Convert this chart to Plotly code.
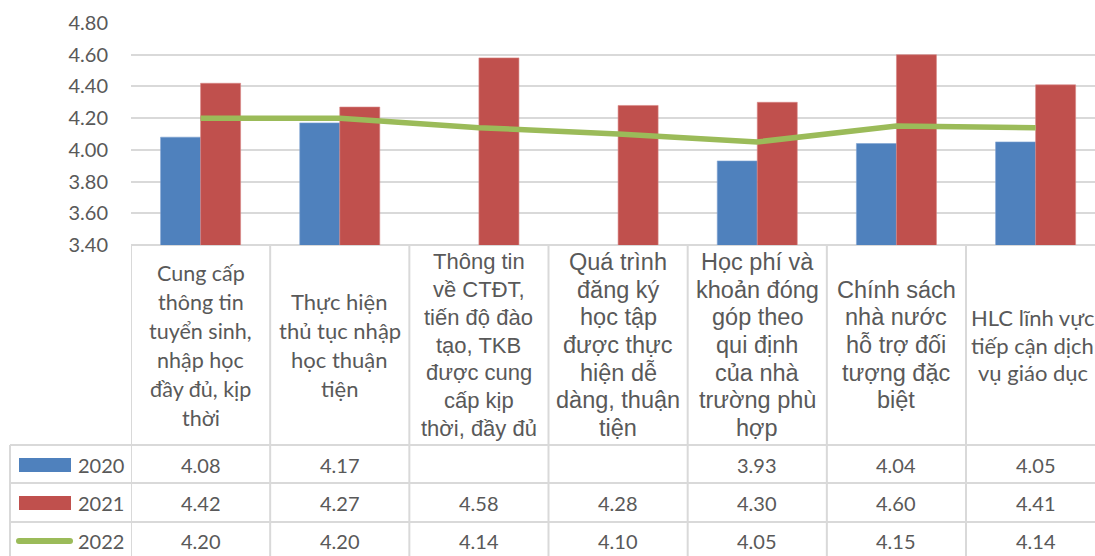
import plotly.graph_objects as go

# Survey items (wrapped as printed in the table header cells)
category_lines = [
    ["Cung cấp", "thông tin", "tuyển sinh,", "nhập học", "đầy đủ, kịp", "thời"],
    ["Thực hiện", "thủ tục nhập", "học thuận", "tiện"],
    ["Thông tin", "về CTĐT,", "tiến độ đào", "tạo, TKB", "được cung", "cấp kịp", "thời, đầy đủ"],
    ["Quá trình", "đăng ký", "học tập", "được thực", "hiện dễ", "dàng, thuận", "tiện"],
    ["Học phí và", "khoản đóng", "góp theo", "qui định", "của nhà", "trường phù", "hợp"],
    ["Chính sách", "nhà nước", "hỗ trợ đối", "tượng đặc", "biệt"],
    ["HLC lĩnh vực", "tiếp cận dịch", "vụ giáo dục"],
]
categories = [" ".join(lines) for lines in category_lines]

years = ["2020", "2021", "2022"]
values_2020 = [4.08, 4.17, None, None, 3.93, 4.04, 4.05]
values_2021 = [4.42, 4.27, 4.58, 4.28, 4.30, 4.60, 4.41]
values_2022 = [4.20, 4.20, 4.14, 4.10, 4.05, 4.15, 4.14]

y_ticks = [3.40, 3.60, 3.80, 4.00, 4.20, 4.40, 4.60, 4.80]

BLUE, RED, GREEN = "#4F81BD", "#C0504D", "#9BBB59"
TEXT = "#595959"
GRID = "#D9D9D9"
FONT = "Lato, 'Liberation Sans', Arial, sans-serif"
FONT_ARIAL = "'Liberation Sans', Arial, sans-serif"

W, H = 1095, 556
LEFT, TOP, BOTTOM = 131, 23, 245          # plot-area edges in pixels
COL_W = 139.17                             # width of one category column


def px(x):
    return (x - LEFT) / (W - LEFT)


def py(y):
    return (BOTTOM - y) / (BOTTOM - TOP)


x_idx = list(range(len(categories)))

fig = go.Figure()
fig.add_trace(go.Bar(x=x_idx, y=values_2020, name=years[0], marker_color=BLUE,
                     marker_line=dict(width=0.6, color="#7FA3D1")))
fig.add_trace(go.Bar(x=x_idx, y=values_2021, name=years[1], marker_color=RED,
                     marker_line=dict(width=0.6, color="#D98785")))
fig.add_trace(go.Scatter(x=x_idx, y=values_2022, name=years[2], mode="lines",
                         line=dict(color=GREEN, width=5.5)))

shapes = []
annotations = []

# header row: category labels (per-column font, size, line pitch)
label_fonts = [FONT, FONT, FONT_ARIAL, FONT_ARIAL, FONT_ARIAL, FONT_ARIAL, FONT]
label_sizes = [21.5, 22, 22, 23.5, 23.5, 23.5, 22]
label_gaps = [29, 29, 27.7, 27.7, 27.7, 27.7, 27.5]
label_shift = [0, 0, 0, 0, 0, 0, -3]
center_y = 345
for i, lines in enumerate(category_lines):
    n = len(lines)
    for k, line in enumerate(lines):
        ypix = center_y + (k - (n - 1) / 2) * label_gaps[i]
        annotations.append(dict(
            x=i, xref="x", y=py(ypix), yref="paper", text=line, showarrow=False,
            xanchor="center", yanchor="middle", xshift=label_shift[i],
            font=dict(size=label_sizes[i], color=TEXT, family=label_fonts[i])))

# data rows
row_centers = [465, 503, 541]
row_lines = [445, 483, 522]
series = [values_2020, values_2021, values_2022]
for r, vals in enumerate(series):
    for i, v in enumerate(vals):
        if v is None:
            continue
        annotations.append(dict(
            x=i, xref="x", y=py(row_centers[r]), yref="paper", text=f"{v:.2f}",
            showarrow=False, xanchor="center", yanchor="middle",
            font=dict(size=20, color=TEXT, family=FONT)))
    annotations.append(dict(
        x=px(76), xref="paper", y=py(row_centers[r]), yref="paper", text=years[r],
        showarrow=False, xanchor="left", yanchor="middle",
        font=dict(size=20, color=TEXT, family=FONT)))

# legend keys inside the table
shapes.append(dict(type="rect", xref="paper", yref="paper", x0=px(19), x1=px(71),
                   y0=py(472), y1=py(458), fillcolor=BLUE, line=dict(width=0)))
shapes.append(dict(type="rect", xref="paper", yref="paper", x0=px(19), x1=px(71),
                   y0=py(510), y1=py(496), fillcolor=RED, line=dict(width=0)))
shapes.append(dict(type="line", xref="paper", yref="paper", x0=px(19), x1=px(70),
                   y0=py(541), y1=py(541), line=dict(color=GREEN, width=6)))
for cx in (19, 70):
    shapes.append(dict(type="circle", xref="paper", yref="paper",
                       x0=px(cx - 3), x1=px(cx + 3), y0=py(544), y1=py(538),
                       fillcolor=GREEN, line=dict(width=0)))

# table grid
border = dict(color=GRID, width=2)
shapes.append(dict(type="line", xref="paper", yref="paper", x0=0, x1=1,
                   y0=0, y1=0, line=border, layer="below"))
for yl in row_lines:
    shapes.append(dict(type="line", xref="paper", yref="paper", x0=px(10), x1=1,
                       y0=py(yl), y1=py(yl), line=border))
shapes.append(dict(type="line", xref="paper", yref="paper", x0=px(10), x1=px(10),
                   y0=py(445), y1=py(H + 5), line=border))
for i in range(len(categories) + 1):
    shapes.append(dict(type="line", xref="x", yref="paper", x0=i - 0.5, x1=i - 0.5,
                       y0=0, y1=py(H + 5), line=border))

fig.update_layout(
    width=W, height=H,
    margin=dict(l=LEFT, r=0, t=TOP, b=H - BOTTOM, pad=0),
    paper_bgcolor="white", plot_bgcolor="white",
    barmode="group", bargap=0.425, bargroupgap=0,
    showlegend=False,
    shapes=shapes, annotations=annotations,
    font=dict(family=FONT, color=TEXT),
)
fig.update_xaxes(range=[-0.5, -0.5 + (W - LEFT) / COL_W], showticklabels=False,
                 showgrid=False, zeroline=False, showline=False, ticks="")
fig.update_yaxes(range=[3.4, 4.8], tickvals=y_ticks, tickformat=".2f",
                 showgrid=True, gridcolor=GRID, gridwidth=1.5, zeroline=False,
                 showline=False, ticks="", ticklabelstandoff=22,
                 tickfont=dict(size=20, color=TEXT, family=FONT))

fig.write_html("out.html")
